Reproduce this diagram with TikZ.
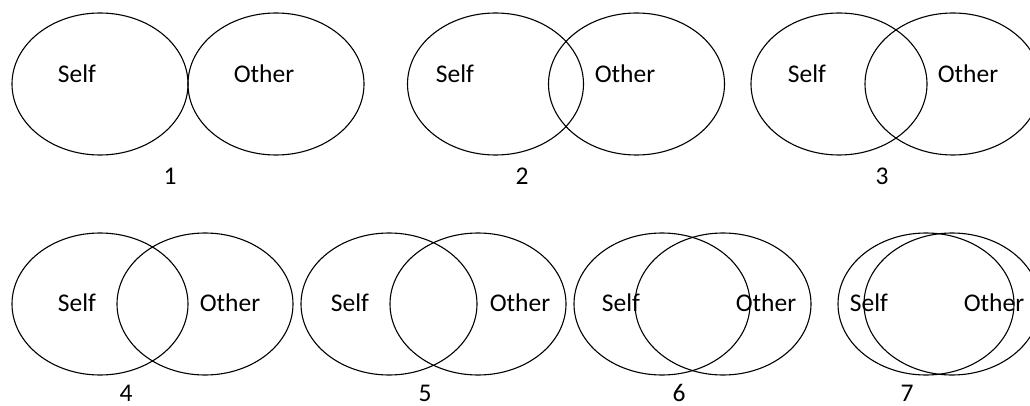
\documentclass[tikz,border=0pt]{standalone}
\usepackage{fontspec}
\setmainfont{Carlito}

\begin{document}
\begin{tikzpicture}[x=1pt, y=1pt, line width=1.1pt,
    lbl/.style={font=\fontsize{25.5}{30}\selectfont, inner sep=0pt, anchor=base}]
  \def\rx{88} \def\ry{71}
  \useasboundingbox (0,0) rectangle (1030,405);
  \clip (0,0) rectangle (1030,405);
  % pares Self/Other: numero, centros de las elipses, posicion de los textos, fila
  \foreach \n/\xs/\xo/\ts/\xt/\xn/\yc/\yt/\yn in {
      1/100/276/77/264/170/321/322/221,
      2/495.5/636.5/455/625/522/321/322/221,
      3/839/953/807/968/882/321/322/221,
      4/100/205/77/230/126/101/94/4,
      5/389/478/350/520/425/101/94/4,
      6/662/723/621/766/679/101/94/4,
      7/926/952/869/994/907/101/94/4} {
    % elipses
    \draw (\xs,\yc) ellipse [x radius=\rx, y radius=\ry];
    \draw (\xo,\yc) ellipse [x radius=\rx, y radius=\ry];
    % textos y numero del par
    \node[lbl] (self\n) at (\ts,\yt) {Self};
    \node[lbl] (other\n) at (\xt,\yt) {Other};
    \node[lbl] (num\n) at (\xn,\yn) {\n};
  }
\end{tikzpicture}
\end{document}
